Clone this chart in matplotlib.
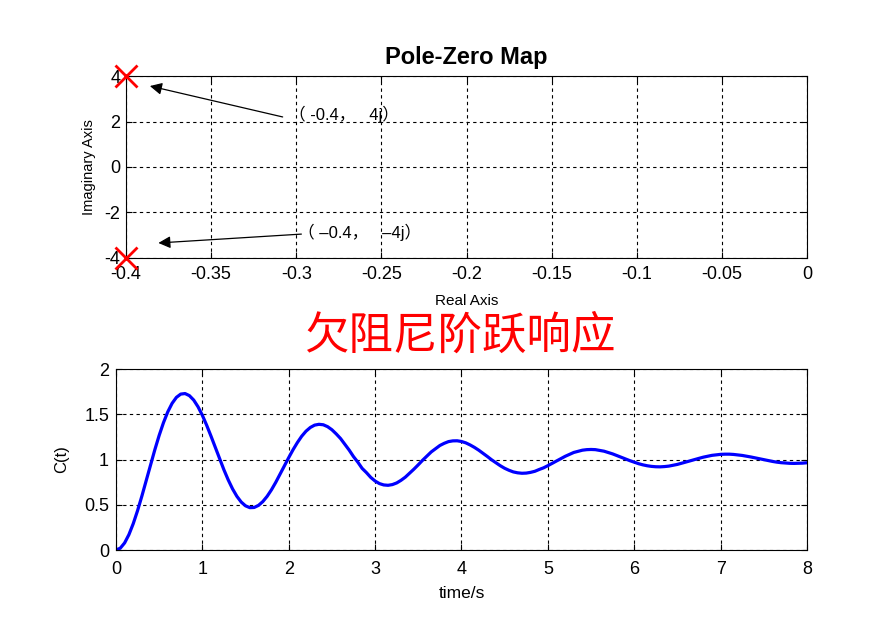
import matplotlib as mpl
mpl.use("Agg")
import matplotlib.pyplot as plt
from matplotlib.ticker import FormatStrFormatter, MultipleLocator

mpl.rcParams.update({
    "font.family": ["Liberation Sans", "Noto Sans CJK SC", "DejaVu Sans"],
    "axes.unicode_minus": False,
    "xtick.direction": "in", "ytick.direction": "in",
    "xtick.top": True, "ytick.right": True,
})

# ── Data ──────────────────────────────────────────────────────────────────────
pole_re = [-0.4, -0.4]
pole_im = [4.0, -4.0]
pole_labels = ["（ -0.4，   4j）", "（ –0.4，   –4j）"]

t = [i / 20 for i in range(161)]  # 0 .. 8 s, step 0.05
c = [0.000, 0.020, 0.078, 0.170, 0.291, 0.435, 0.596, 0.767, 0.940, 1.108,
     1.266, 1.407, 1.527, 1.621, 1.687, 1.723, 1.729, 1.706, 1.657, 1.583,
     1.489, 1.379, 1.259, 1.134, 1.008, 0.886, 0.774, 0.675, 0.593, 0.530,
     0.488, 0.468, 0.470, 0.493, 0.535, 0.593, 0.665, 0.748, 0.839, 0.929,
     1.021, 1.108, 1.187, 1.257, 1.313, 1.354, 1.380, 1.389, 1.384, 1.363,
     1.329, 1.283, 1.232, 1.169, 1.104, 1.032, 0.971, 0.902, 0.855, 0.802,
     0.762, 0.734, 0.719, 0.715, 0.723, 0.741, 0.770, 0.805, 0.849, 0.894,
     0.942, 0.992, 1.038, 1.084, 1.119, 1.155, 1.179, 1.198, 1.206, 1.207,
     1.199, 1.184, 1.161, 1.134, 1.103, 1.068, 1.033, 0.996, 0.964, 0.931,
     0.903, 0.881, 0.863, 0.853, 0.848, 0.850, 0.858, 0.870, 0.890, 0.908,
     0.932, 0.958, 0.984, 1.010, 1.035, 1.057, 1.078, 1.091, 1.103, 1.109,
     1.111, 1.109, 1.101, 1.092, 1.077, 1.062, 1.043, 1.025, 1.005, 0.987,
     0.970, 0.954, 0.941, 0.931, 0.924, 0.920, 0.919, 0.922, 0.927, 0.936,
     0.946, 0.959, 0.972, 0.986, 1.000, 1.013, 1.026, 1.036, 1.046, 1.052,
     1.057, 1.059, 1.059, 1.056, 1.051, 1.045, 1.037, 1.028, 1.018, 1.007,
     0.997, 0.988, 0.979, 0.971, 0.965, 0.961, 0.958, 0.957, 0.958, 0.960,
     0.964]

fig = plt.figure(figsize=(8.92, 6.2), dpi=100)

grid_kw = dict(color="black", linestyle=(0, (3, 3)), linewidth=0.8)

# ── Pole-zero map ────────────────────────────────────────────────────────────
ax1 = fig.add_axes([0.1413, 0.5839, 0.7634, 0.2935])
ax1.plot(pole_re, pole_im, linestyle="none", marker="x", color="red",
         markersize=16, markeredgewidth=2, clip_on=False, zorder=5)
ax1.set_xlim(-0.4, 0)
ax1.set_ylim(-4, 4)
ax1.xaxis.set_major_locator(MultipleLocator(0.05))
ax1.yaxis.set_major_locator(MultipleLocator(2))
ax1.xaxis.set_major_formatter(FormatStrFormatter("%g"))
ax1.grid(True, **grid_kw)
ax1.tick_params(labelsize=13, length=4)
ax1.tick_params(axis="x", pad=6)
ax1.tick_params(axis="y", pad=4)
ax1.set_title("Pole-Zero Map", fontsize=17, fontweight="bold", pad=9)
ax1.set_xlabel("Real Axis", fontsize=11, labelpad=8)
ax1.set_ylabel("Imaginary Axis", fontsize=10.5, labelpad=6)

ax1.annotate("", xy=(-0.386, 3.56), xytext=(-0.308, 2.2),
             arrowprops=dict(arrowstyle="-|>", color="black", lw=0.9,
                             mutation_scale=18, shrinkA=0, shrinkB=0))
ax1.annotate("", xy=(-0.381, -3.34), xytext=(-0.297, -2.95),
             arrowprops=dict(arrowstyle="-|>", color="black", lw=0.9,
                             mutation_scale=18, shrinkA=0, shrinkB=0))
ax1.text(-0.304, 2.33, pole_labels[0], fontsize=12, va="center", ha="left")
ax1.text(-0.299, -2.86, pole_labels[1], fontsize=12, va="center", ha="left")

fig.text(0.516, 0.458, "欠阻尼阶跃响应", color="red", fontsize=32,
         ha="center", va="center", family=["Noto Sans CJK SC"])

# ── Step response ────────────────────────────────────────────────────────────
ax2 = fig.add_axes([0.130, 0.1129, 0.7747, 0.2919])
ax2.plot(t, c, color="blue", linewidth=2.3)
ax2.set_xlim(0, 8)
ax2.set_ylim(0, 2)
ax2.xaxis.set_major_locator(MultipleLocator(1))
ax2.yaxis.set_major_locator(MultipleLocator(0.5))
ax2.yaxis.set_major_formatter(FormatStrFormatter("%g"))
ax2.grid(True, **grid_kw)
ax2.tick_params(labelsize=13, length=4)
ax2.tick_params(axis="x", pad=8)
ax2.tick_params(axis="y", pad=5)
ax2.set_xlabel("time/s", fontsize=12.5, labelpad=6)
ax2.set_ylabel("C(t)", fontsize=12, labelpad=11)

fig.savefig("out.png", dpi=100)
